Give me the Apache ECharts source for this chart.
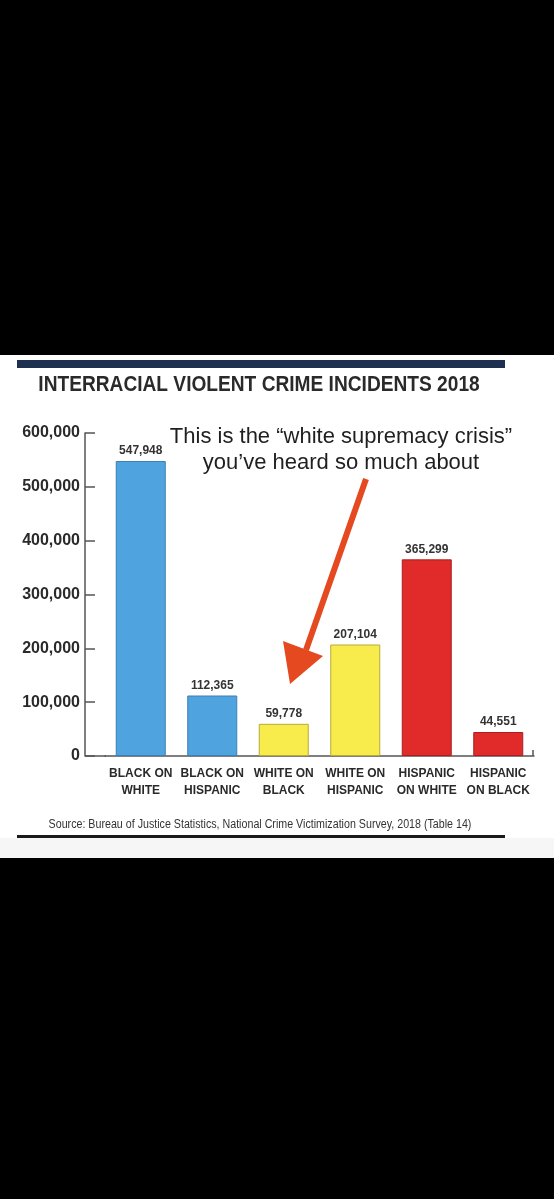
<!DOCTYPE html>
<html><head><meta charset="utf-8">
<script src="https://cdn.jsdelivr.net/npm/echarts@6/dist/echarts.min.js"></script>
<style>html,body{margin:0;padding:0;background:#000;}#c{width:554px;height:1199px;}</style>
</head><body><div id="c"></div>
<script>
const categories = ['BLACK ON\nWHITE','BLACK ON\nHISPANIC','WHITE ON\nBLACK','WHITE ON\nHISPANIC','HISPANIC\nON WHITE','HISPANIC\nON BLACK'];
const values = [547948, 112365, 59778, 207104, 365299, 44551];
const fills = ['#4fa3de','#4fa3de','#f8eb4c','#f8eb4c','#e12b2b','#e12b2b'];
const borders = ['#3b7fb3','#3b7fb3','#b9ab35','#b9ab35','#a91f1f','#a91f1f'];
const yTicks = [0, 100000, 200000, 300000, 400000, 500000, 600000];
const titleText = 'INTERRACIAL VIOLENT CRIME INCIDENTS 2018';
const noteText = 'This is the \u201Cwhite supremacy crisis\u201D\nyou\u2019ve heard so much about';
const sourceText = 'Source: Bureau of Justice Statistics, National Crime Victimization Survey, 2018 (Table 14)';

const SANS = '"Liberation Sans", Arial, sans-serif';
const chart = echarts.init(document.getElementById('c'), null, {renderer:'canvas'});
const fmt = v => v.toLocaleString('en-US');
chart.setOption({
  backgroundColor: '#000',
  animation: false,
  grid: {left: 105, right: 20, top: 433, bottom: 443, containLabel: false},
  xAxis: {type: 'category', data: categories,
    axisLine: {lineStyle: {color: '#555', width: 1.5}},
    axisTick: {show: false},
    axisLabel: {fontFamily: SANS, fontWeight: 'bold', fontSize: 12, color: '#2a2a2a', lineHeight: 17, margin: 9, interval: 0}},
  yAxis: {type: 'value', min: yTicks[0], max: yTicks[yTicks.length - 1], interval: 100000, offset: 20,
    axisLine: {show: true, lineStyle: {color: '#555', width: 1.5}},
    axisTick: {show: true, inside: true, length: 10, lineStyle: {color: '#555', width: 1.5}},
    splitLine: {show: false},
    axisLabel: {fontFamily: SANS, fontWeight: 'bold', fontSize: 16, color: '#2a2a2a', margin: 5, formatter: v => fmt(v)}},
  series: [{type: 'bar', barWidth: 50,
    data: values.map((v, i) => ({value: v, itemStyle: {color: fills[i], borderColor: borders[i], borderWidth: 1}})),
    label: {show: true, position: 'top', distance: 4, fontFamily: SANS, fontWeight: 'bold', fontSize: 12, color: '#333', formatter: p => fmt(p.value)}}],
  graphic: [
    {type: 'rect', z: -10, shape: {x: 0, y: 355, width: 554, height: 483}, style: {fill: '#ffffff'}},
    {type: 'rect', z: -10, shape: {x: 0, y: 838, width: 554, height: 20}, style: {fill: '#f6f6f6'}},
    {type: 'rect', shape: {x: 17, y: 360, width: 488, height: 8}, style: {fill: '#1e3050'}},
    {type: 'rect', shape: {x: 17, y: 835, width: 488, height: 3}, style: {fill: '#1a1a1a'}},
    {type: 'text', x: 259, y: 385, scaleX: 0.87, style: {text: titleText, font: 'bold 22px ' + SANS, fill: '#2a2a2a', textAlign: 'center', textVerticalAlign: 'middle'}},
    {type: 'line', shape: {x1: 85, y1: 756, x2: 106, y2: 756}, style: {stroke: '#555', lineWidth: 1.5}},
    {type: 'line', shape: {x1: 533, y1: 756, x2: 533, y2: 750}, style: {stroke: '#555', lineWidth: 1.5}},
    {type: 'text', x: 260, y: 825, scaleX: 0.89, style: {text: sourceText, font: '12px ' + SANS, fill: '#333', textAlign: 'center', textVerticalAlign: 'middle'}},
    {type: 'text', x: 341, y: 424, style: {text: noteText, font: '22px ' + SANS, fill: '#1f1f1f', textAlign: 'center', lineHeight: 26}},
    {type: 'line', shape: {x1: 366, y1: 479, x2: 306, y2: 650}, style: {stroke: '#e4491f', lineWidth: 6}},
    {type: 'polygon', shape: {points: [[290, 684], [283, 641], [323, 656]]}, style: {fill: '#e4491f'}}
  ]
});
</script></body></html>
